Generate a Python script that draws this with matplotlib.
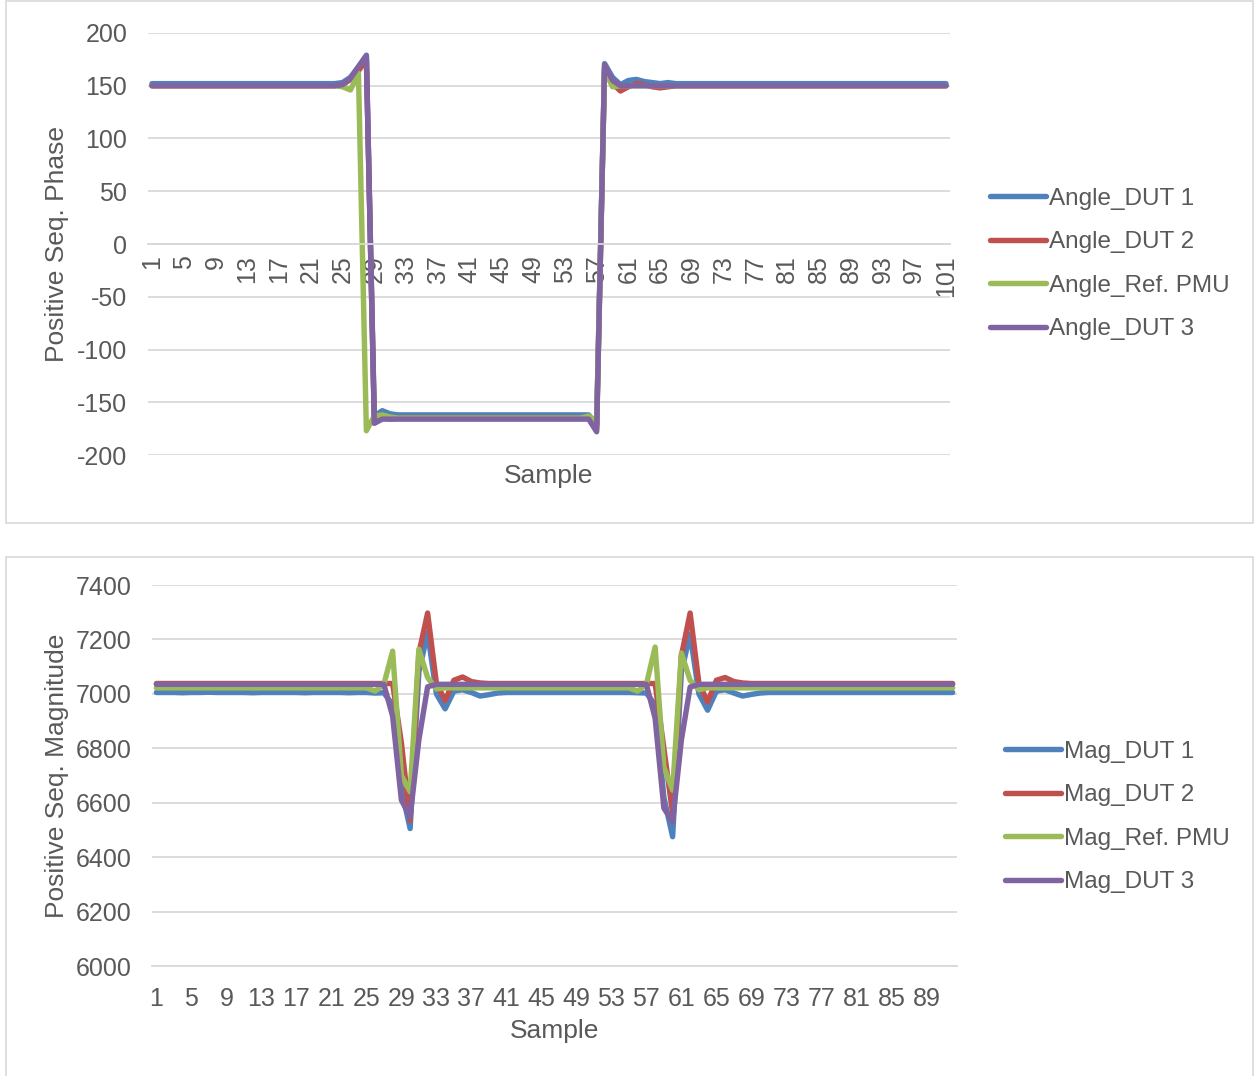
import matplotlib
matplotlib.use("Agg")
import matplotlib.pyplot as plt
from matplotlib.patches import Rectangle

plt.rcParams['font.family'] = ['Liberation Sans', 'DejaVu Sans']
plt.rcParams['axes.unicode_minus'] = False

# ---- top chart: positive sequence phase, samples 1..101 ----
angle_dut1 = [152, 152, 152, 152, 152, 152, 152, 152, 152, 152,
              152, 152, 152, 152, 152, 152, 152, 152, 152, 152,
              152, 152, 152, 152, 153, 158, 168, 179, -163, -158,
              -161, -162, -162, -162, -162, -162, -162, -162, -162, -162,
              -162, -162, -162, -162, -162, -162, -162, -162, -162, -162,
              -162, -162, -162, -162, -162, -162, -172, 171, 158, 151,
              155, 156, 154, 153, 152, 153, 152, 152, 152, 152,
              152, 152, 152, 152, 152, 152, 152, 152, 152, 152,
              152, 152, 152, 152, 152, 152, 152, 152, 152, 152,
              152, 152, 152, 152, 152, 152, 152, 152, 152, 152,
              152]
angle_dut2 = [150, 150, 150, 150, 150, 150, 150, 150, 150, 150,
              150, 150, 150, 150, 150, 150, 150, 150, 150, 150,
              150, 150, 150, 150, 151, 156, 164, 175, -166, -163,
              -166, -165, -165, -165, -165, -165, -165, -165, -165, -165,
              -165, -165, -165, -165, -165, -165, -165, -165, -165, -165,
              -165, -165, -165, -165, -165, -165, -175, 168, 152, 145,
              149, 152, 151, 149, 148, 149, 150, 150, 150, 150,
              150, 150, 150, 150, 150, 150, 150, 150, 150, 150,
              150, 150, 150, 150, 150, 150, 150, 150, 150, 150,
              150, 150, 150, 150, 150, 150, 150, 150, 150, 150,
              150]
angle_ref = [150, 150, 150, 150, 150, 150, 150, 150, 150, 150,
             150, 150, 150, 150, 150, 150, 150, 150, 150, 150,
             150, 150, 150, 150, 149, 146, 162, -177, -163, -162,
             -164, -165, -165, -165, -165, -165, -165, -165, -165, -165,
             -165, -165, -165, -165, -165, -165, -165, -165, -165, -165,
             -165, -165, -165, -165, -165, -163, -168, 165, 149, 150,
             150, 150, 150, 150, 150, 150, 150, 150, 150, 150,
             150, 150, 150, 150, 150, 150, 150, 150, 150, 150,
             150, 150, 150, 150, 150, 150, 150, 150, 150, 150,
             150, 150, 150, 150, 150, 150, 150, 150, 150, 150,
             150]
angle_dut3 = [150, 150, 150, 150, 150, 150, 150, 150, 150, 150,
              150, 150, 150, 150, 150, 150, 150, 150, 150, 150,
              150, 150, 150, 150, 151, 157, 168, 178, -170, -166,
              -166, -166, -166, -166, -166, -166, -166, -166, -166, -166,
              -166, -166, -166, -166, -166, -166, -166, -166, -166, -166,
              -166, -166, -166, -166, -166, -166, -178, 170, 155, 150,
              150, 150, 150, 150, 150, 150, 150, 150, 150, 150,
              150, 150, 150, 150, 150, 150, 150, 150, 150, 150,
              150, 150, 150, 150, 150, 150, 150, 150, 150, 150,
              150, 150, 150, 150, 150, 150, 150, 150, 150, 150,
              150]

# ---- bottom chart: positive sequence magnitude, samples 1..92 ----
mag_dut1 = [7005, 7005, 7005, 7004, 7005, 7005, 7006, 7005, 7005, 7005,
            7005, 7004, 7005, 7005, 7005, 7005, 7005, 7004, 7005, 7005,
            7005, 7005, 7004, 7005, 7005, 7003, 7004, 6960, 6650, 6505,
            7080, 7225, 7000, 6945, 7010, 7015, 7005, 6992, 6997, 7003,
            7005, 7005, 7005, 7005, 7005, 7005, 7005, 7005, 7005, 7005,
            7005, 7005, 7005, 7005, 7005, 7004, 7003, 6960, 6620, 6475,
            7080, 7220, 7000, 6940, 7010, 7015, 7003, 6992, 6998, 7003,
            7005, 7005, 7005, 7005, 7005, 7005, 7005, 7005, 7005, 7005,
            7005, 7005, 7005, 7005, 7005, 7005, 7005, 7005, 7005, 7005,
            7005, 7005]
mag_dut2 = [7038, 7038, 7038, 7038, 7038, 7038, 7038, 7038, 7038, 7038,
            7038, 7038, 7038, 7038, 7038, 7038, 7038, 7038, 7038, 7038,
            7038, 7038, 7038, 7038, 7038, 7038, 7038, 7038, 6820, 6535,
            7150, 7297, 7040, 6975, 7050, 7062, 7045, 7040, 7038, 7038,
            7038, 7038, 7038, 7038, 7038, 7038, 7038, 7038, 7038, 7038,
            7038, 7038, 7038, 7038, 7038, 7038, 7038, 7038, 6800, 6560,
            7140, 7297, 7040, 6970, 7050, 7060, 7045, 7040, 7038, 7038,
            7038, 7038, 7038, 7038, 7038, 7038, 7038, 7038, 7038, 7038,
            7038, 7038, 7038, 7038, 7038, 7038, 7038, 7038, 7038, 7038,
            7038, 7038]
mag_ref = [7022, 7022, 7022, 7022, 7022, 7022, 7022, 7022, 7022, 7022,
           7022, 7022, 7022, 7022, 7022, 7022, 7022, 7022, 7022, 7022,
           7022, 7022, 7022, 7022, 7022, 7010, 7035, 7157, 6700, 6640,
           7164, 7060, 7018, 7022, 7022, 7022, 7022, 7022, 7022, 7022,
           7022, 7022, 7022, 7022, 7022, 7022, 7022, 7022, 7022, 7022,
           7022, 7022, 7022, 7022, 7022, 7010, 7035, 7172, 6730, 6646,
           7150, 7050, 7015, 7022, 7022, 7022, 7022, 7022, 7022, 7022,
           7022, 7022, 7022, 7022, 7022, 7022, 7022, 7022, 7022, 7022,
           7022, 7022, 7022, 7022, 7022, 7022, 7022, 7022, 7022, 7022,
           7022, 7022]
mag_dut3 = [7035, 7035, 7035, 7035, 7035, 7035, 7035, 7035, 7035, 7035,
            7035, 7035, 7035, 7035, 7035, 7035, 7035, 7035, 7035, 7035,
            7035, 7035, 7035, 7035, 7035, 7035, 7035, 6918, 6610, 6548,
            6831, 7026, 7035, 7035, 7035, 7035, 7035, 7035, 7035, 7035,
            7035, 7035, 7035, 7035, 7035, 7035, 7035, 7035, 7035, 7035,
            7035, 7035, 7035, 7035, 7035, 7035, 7035, 6910, 6580, 6530,
            6830, 7025, 7035, 7035, 7035, 7035, 7035, 7035, 7035, 7035,
            7035, 7035, 7035, 7035, 7035, 7035, 7035, 7035, 7035, 7035,
            7035, 7035, 7035, 7035, 7035, 7035, 7035, 7035, 7035, 7035,
            7035, 7035]

angle_names = ['Angle_DUT 1', 'Angle_DUT 2', 'Angle_Ref. PMU', 'Angle_DUT 3']
mag_names = ['Mag_DUT 1', 'Mag_DUT 2', 'Mag_Ref. PMU', 'Mag_DUT 3']
colors = ['#4F81BD', '#C0504D', '#9BBB59', '#8064A2']

TXT = '#595959'
GRID = '#d9d9d9'
FS = 18      # tick labels
LFS = 17.5   # legend
AFS = 19     # axis titles

W, H = 1255, 1076
fig = plt.figure(figsize=(W / 100, H / 100), dpi=100)

# panel borders (excel chart areas)
fig.patches.append(Rectangle((6 / W, 1 - 523 / H), 1247 / W, 522 / H,
                             transform=fig.transFigure, fill=False,
                             edgecolor=GRID, lw=1.2))
fig.patches.append(Rectangle((6 / W, -0.01), 1247 / W, 1 - 557 / H + 0.01,
                             transform=fig.transFigure, fill=False,
                             edgecolor=GRID, lw=1.2))


def style(ax):
    for s in ['top', 'right', 'left']:
        ax.spines[s].set_visible(False)
    ax.spines['bottom'].set_color(GRID)
    ax.spines['bottom'].set_linewidth(1.3)
    ax.yaxis.grid(True, color=GRID, lw=1.3)
    ax.set_axisbelow(True)
    ax.tick_params(length=0, labelsize=FS, labelcolor=TXT)
    ax.tick_params(axis='y', pad=15)


def draw(ax, xs, series, names):
    for ys, c, n in zip(series, colors, names):
        ax.plot(xs, ys, color=c, lw=3.9, label=n,
                solid_joinstyle='round', solid_capstyle='round')


def legend(ax, x, y):
    ax.legend(loc='center left', bbox_to_anchor=(x / W, 1 - y / H),
              bbox_transform=fig.transFigure, frameon=False, fontsize=LFS,
              labelcolor=TXT, borderpad=0, borderaxespad=0, handlelength=2.3,
              handletextpad=0.13, labelspacing=0.88)


# top
ax1 = fig.add_axes([148 / W, 1 - 455 / H, 802 / W, 422 / H])
style(ax1)
xs1 = list(range(1, len(angle_dut1) + 1))
draw(ax1, xs1, [angle_dut1, angle_dut2, angle_ref, angle_dut3], angle_names)
ax1.set_xlim(0.5, len(xs1) + 0.5)
ax1.set_ylim(-200, 200)
ax1.set_yticks(range(-200, 201, 50))
ax1.set_xticks(xs1[::4])
ax1.spines['bottom'].set_position(('data', 0))
ax1.tick_params(axis='x', rotation=90, pad=8)
ax1.set_ylabel('Positive Seq. Phase', fontsize=AFS, color=TXT)
ax1.yaxis.set_label_coords(-0.0985, 0.5)
ax1.set_xlabel('Sample', fontsize=AFS, color=TXT)
ax1.xaxis.set_label_coords(0.5, -0.022)
legend(ax1, 990, 264)

# bottom
ax2 = fig.add_axes([152 / W, 1 - 966 / H, 805 / W, 381 / H])
style(ax2)
xs2 = list(range(1, len(mag_dut1) + 1))
draw(ax2, xs2, [mag_dut1, mag_dut2, mag_ref, mag_dut3], mag_names)
ax2.set_xlim(0.5, len(xs2) + 0.5)
ax2.set_ylim(6000, 7400)
ax2.set_yticks(range(6000, 7401, 200))
ax2.set_xticks(xs2[::4])
ax2.tick_params(axis='x', pad=15)
ax2.set_ylabel('Positive Seq. Magnitude', fontsize=AFS, color=TXT)
ax2.yaxis.set_label_coords(-0.103, 0.5)
ax2.set_xlabel('Sample', fontsize=AFS, color=TXT)
ax2.xaxis.set_label_coords(0.5, -0.14)
legend(ax2, 1005, 817)

fig.savefig('out.png', dpi=100)
